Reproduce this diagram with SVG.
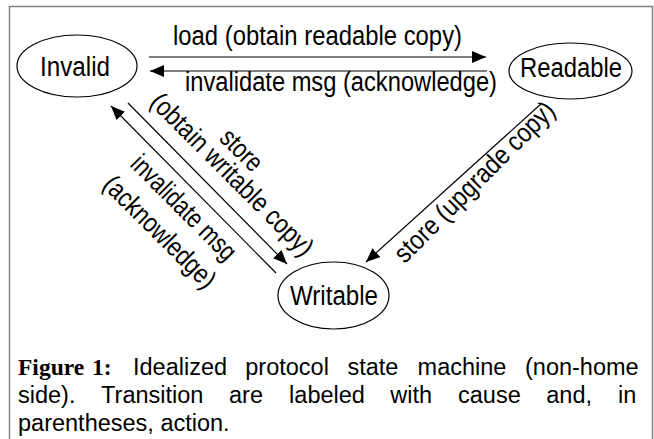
<svg xmlns="http://www.w3.org/2000/svg" width="654" height="439" viewBox="0 0 654 439">
<style>
.lbl{font-family:"Liberation Sans",Arial,sans-serif;font-size:27px;fill:#000}
.node ellipse{fill:#fff;stroke:#000;stroke-width:1.2}
.edge{stroke:#000;stroke-width:1.2;fill:none}
.cap{font-family:"Liberation Sans",Arial,sans-serif;font-size:23.5px;fill:#000}
.capb{font-family:"Liberation Serif","Times New Roman",serif;font-size:23.5px;font-weight:bold;fill:#000}
</style>
<defs>
<marker id="ah" markerUnits="userSpaceOnUse" markerWidth="14" markerHeight="12" refX="14" refY="6" orient="auto">
<path d="M0,0 L14,6 L0,12 z" fill="#000"/>
</marker>
</defs>
<rect x="0" y="0" width="654" height="439" fill="#fff"/>
<path d="M9.5,445 V6.5 H652.5 V445" fill="none" stroke="#808080" stroke-width="1.5"/>

<g id="connectors">
<line class="edge" x1="149" y1="57" x2="486" y2="57" marker-end="url(#ah)"/>
<line class="edge" x1="487" y1="71" x2="150" y2="71" marker-end="url(#ah)"/>
<line class="edge" x1="128" y1="103" x2="287" y2="264" marker-end="url(#ah)"/>
<line class="edge" x1="276" y1="273" x2="111" y2="106" marker-end="url(#ah)"/>
<line class="edge" x1="542" y1="103" x2="366" y2="262" marker-end="url(#ah)"/>
<text class="lbl" x="173" y="45" textLength="289" lengthAdjust="spacingAndGlyphs">load (obtain readable copy)</text>
<text class="lbl" x="185" y="91" textLength="312" lengthAdjust="spacingAndGlyphs">invalidate msg (acknowledge)</text>
<g transform="translate(241.7,150) rotate(45)"><text class="lbl" x="0" y="9" text-anchor="middle" textLength="48" lengthAdjust="spacingAndGlyphs">store</text></g>
<g transform="translate(230.7,175.8) rotate(45)"><text class="lbl" x="0" y="7" text-anchor="middle" textLength="218" lengthAdjust="spacingAndGlyphs">(obtain writable copy)</text></g>
<g transform="translate(182.5,209) rotate(45)"><text class="lbl" x="0" y="7" text-anchor="middle" textLength="137" lengthAdjust="spacingAndGlyphs">invalidate msg</text></g>
<g transform="translate(158.3,233.3) rotate(45)"><text class="lbl" x="0" y="7" text-anchor="middle" textLength="147" lengthAdjust="spacingAndGlyphs">(acknowledge)</text></g>
<g transform="translate(475.8,183.3) rotate(-45)"><text class="lbl" x="0" y="7" text-anchor="middle" textLength="215" lengthAdjust="spacingAndGlyphs">store (upgrade copy)</text></g>
</g>

<g id="invalid" class="node">
<ellipse cx="77" cy="66" rx="60" ry="31"/>
<text class="lbl" x="40" y="76" textLength="70" lengthAdjust="spacingAndGlyphs">Invalid</text>
</g>
<g id="readable" class="node">
<ellipse cx="570.5" cy="71" rx="61.5" ry="28"/>
<text class="lbl" x="520" y="77" textLength="102" lengthAdjust="spacingAndGlyphs">Readable</text>
</g>
<g id="writable" class="node">
<ellipse cx="333.5" cy="295.5" rx="55.5" ry="33.5"/>
<text class="lbl" x="290" y="305" textLength="88" lengthAdjust="spacingAndGlyphs">Writable</text>
</g>

<g id="caption">
<text class="capb" x="18" y="375">Figure</text>
<text class="capb" x="92" y="375">1:</text>
<text class="cap" y="375"><tspan x="133">Idealized</tspan><tspan x="245.3">protocol</tspan><tspan x="347.4">state</tspan><tspan x="417.6">machine</tspan><tspan x="525">(non-home</tspan></text>
<text class="cap" y="403"><tspan x="18">side).</tspan><tspan x="101.1">Transition</tspan><tspan x="229">are</tspan><tspan x="289.1">labeled</tspan><tspan x="390.2">with</tspan><tspan x="458">cause</tspan><tspan x="546.3">and,</tspan><tspan x="618.1">in</tspan></text>
<text class="cap" x="18" y="431">parentheses, action.</text>
</g>
</svg>
